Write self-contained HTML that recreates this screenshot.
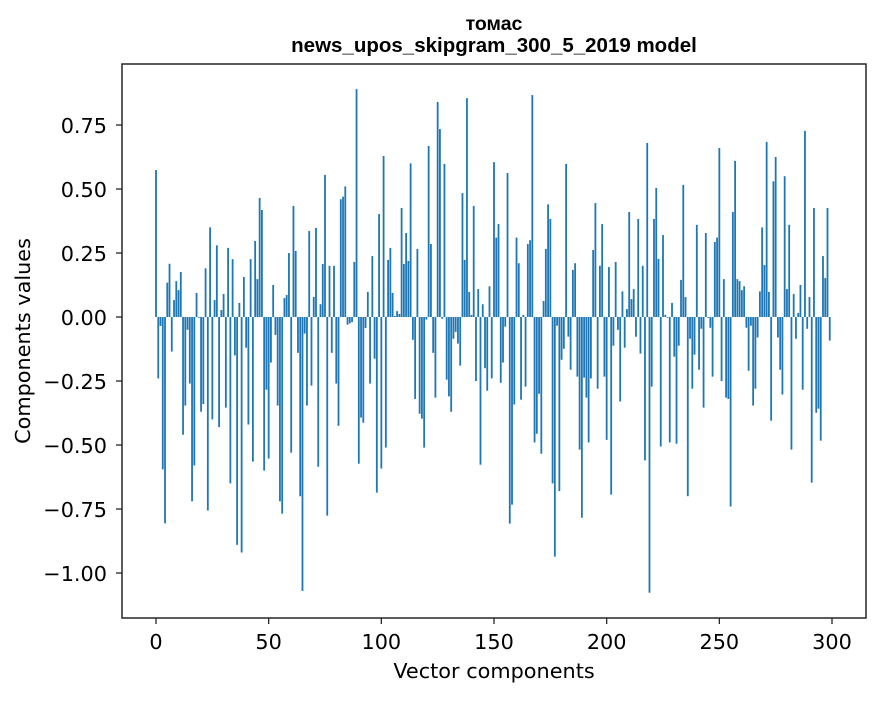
<!DOCTYPE html>
<html><head><meta charset="utf-8"><style>
body{margin:0;background:#fff}
svg text{font-family:"DejaVu Sans","Liberation Sans",sans-serif;fill:#000}
</style></head><body>
<svg id="chart" width="880" height="696" xmlns="http://www.w3.org/2000/svg">
<rect width="880" height="696" fill="#fff"/>
<text x="494" y="30" text-anchor="middle" font-size="19.5" font-weight="bold" style="font-family:'Liberation Sans',sans-serif">томас</text>
<text x="494" y="52" text-anchor="middle" font-size="20.5" font-weight="bold" style="font-family:'Liberation Sans',sans-serif">news_upos_skipgram_300_5_2019 model</text>
<g id="bars"></g>
<g id="axes"></g>
<rect x="122" y="64" width="744" height="554" fill="none" stroke="#262626" stroke-width="1.5"/>
<text x="494" y="678" text-anchor="middle" font-size="20.8">Vector components</text>
<text transform="translate(30,341) rotate(-90)" text-anchor="middle" font-size="20.8">Components values</text>
</svg>
<script>
const values = [0.574,-0.24,-0.035,-0.595,-0.806,0.134,0.208,-0.135,0.066,0.14,0.105,0.176,-0.46,-0.346,-0.05,-0.26,-0.72,-0.58,0.094,-0.003,
-0.37,-0.34,0.19,-0.756,0.35,-0.40,0.066,0.28,-0.43,0.027,0.09,-0.354,0.27,-0.65,0.226,-0.15,-0.89,0.055,-0.92,0.156,
-0.12,-0.42,0.226,-0.565,0.297,0.148,0.465,0.418,-0.60,-0.284,-0.553,-0.178,0.125,-0.07,-0.346,-0.72,-0.768,0.074,0.086,0.25,
-0.53,0.434,0.258,-0.14,-0.70,-1.07,-0.065,-0.346,0.336,-0.268,0.078,0.348,-0.585,0.05,0.207,0.555,-0.776,0.2,-0.14,0.2,
-0.26,-0.425,0.46,0.47,0.51,-0.03,-0.025,-0.02,0.215,0.89,-0.573,-0.393,-0.413,-0.043,0.098,-0.26,0.238,-0.163,-0.686,0.402,
-0.592,0.629,-0.51,0.223,0.27,0.094,0.004,0.023,0.012,0.426,0.207,0.328,0.219,0.60,-0.089,-0.32,0.266,-0.378,-0.397,-0.51,
-0.01,0.668,0.285,-0.14,-0.315,0.84,0.734,-0.007,0.598,-0.245,-0.31,-0.37,-0.085,-0.058,-0.104,-0.19,0.484,0.223,0.855,0.098,
0.008,0.434,-0.25,0.109,-0.577,0.05,-0.2,-0.288,0.12,-0.24,0.605,0.31,0.363,-0.257,-0.178,-0.038,0.5625,-0.807,-0.733,-0.342,
0.31,0.21,-0.323,0.008,-0.272,0.285,0.30,0.867,-0.49,-0.456,-0.30,-0.534,0.0625,0.266,0.44,0.383,-0.65,-0.936,-0.034,-0.68,
-0.167,-0.124,0.598,-0.077,-0.206,0.184,0.21,-0.233,-0.518,-0.784,-0.237,-0.315,-0.49,-0.24,0.262,0.445,-0.28,0.2,0.363,-0.233,
-0.48,0.195,-0.694,-0.112,0.215,-0.05,-0.33,0.10,-0.12,0.031,0.41,0.07,0.109,-0.077,0.383,-0.143,0.2,-0.56,0.68,-1.077,
-0.272,0.383,0.504,0.227,-0.506,0.32,0.008,-0.003,-0.49,0.055,-0.155,-0.495,-0.112,0.145,0.516,0.078,-0.70,-0.085,-0.28,-0.147,
0.36,-0.206,-0.046,-0.354,0.328,-0.003,-0.042,-0.233,0.293,0.31,0.66,-0.25,0.148,-0.315,-0.32,-0.74,0.41,0.61,0.148,0.14,
0.105,0.12,-0.042,-0.21,-0.034,-0.346,-0.28,-0.08,0.10,0.35,0.203,0.684,0.098,-0.405,0.53,0.625,-0.08,-0.206,-0.303,0.55,
0.109,0.36,-0.518,0.09,-0.085,0.016,0.125,-0.284,0.727,-0.046,0.078,-0.647,0.426,-0.374,-0.358,-0.483,0.238,0.152,0.426,-0.092];
const xTicks = [0,50,100,150,200,250,300];
const yTicks = [0.75,0.5,0.25,0,-0.25,-0.5,-0.75,-1.0];
const yTickLabels = ["0.75","0.50","0.25","0.00","\u22120.25","\u22120.50","\u22120.75","\u22121.00"];

const NS='http://www.w3.org/2000/svg';
const xScale = v => 156 + v*(676/300);
const yScale = v => 317 - v*256;
const bw = 0.8*(676/300);
const barsG = document.getElementById('bars');
values.forEach((v,i)=>{
  const r=document.createElementNS(NS,'rect');
  const y0=yScale(0), y1=yScale(v);
  r.setAttribute('x',xScale(i)-bw/2);
  r.setAttribute('y',Math.min(y0,y1));
  r.setAttribute('width',bw);
  r.setAttribute('height',Math.max(Math.abs(y1-y0),0.3));
  r.setAttribute('fill','#1f77b4');
  
  
  barsG.appendChild(r);
});
const axG=document.getElementById('axes');
xTicks.forEach(t=>{
  const x=xScale(t);
  const l=document.createElementNS(NS,'line');
  l.setAttribute('x1',x);l.setAttribute('x2',x);l.setAttribute('y1',618);l.setAttribute('y2',624);
  l.setAttribute('stroke','#262626');l.setAttribute('stroke-width','1.3');
  
  
  axG.appendChild(l);
  const tx=document.createElementNS(NS,'text');
  tx.setAttribute('x',x);tx.setAttribute('y',649);tx.setAttribute('text-anchor','middle');tx.setAttribute('font-size','20.8');
  tx.textContent=String(t);
  
  
  axG.appendChild(tx);
});
yTicks.forEach((t,i)=>{
  const y=yScale(t);
  const l=document.createElementNS(NS,'line');
  l.setAttribute('x1',116);l.setAttribute('x2',122);l.setAttribute('y1',y);l.setAttribute('y2',y);
  l.setAttribute('stroke','#262626');l.setAttribute('stroke-width','1.3');
  
  
  axG.appendChild(l);
  const tx=document.createElementNS(NS,'text');
  tx.setAttribute('x',107);tx.setAttribute('y',y+8);tx.setAttribute('text-anchor','end');tx.setAttribute('font-size','20.8');
  tx.textContent=yTickLabels[i];
  
  
  axG.appendChild(tx);
});
</script>
</body></html>
